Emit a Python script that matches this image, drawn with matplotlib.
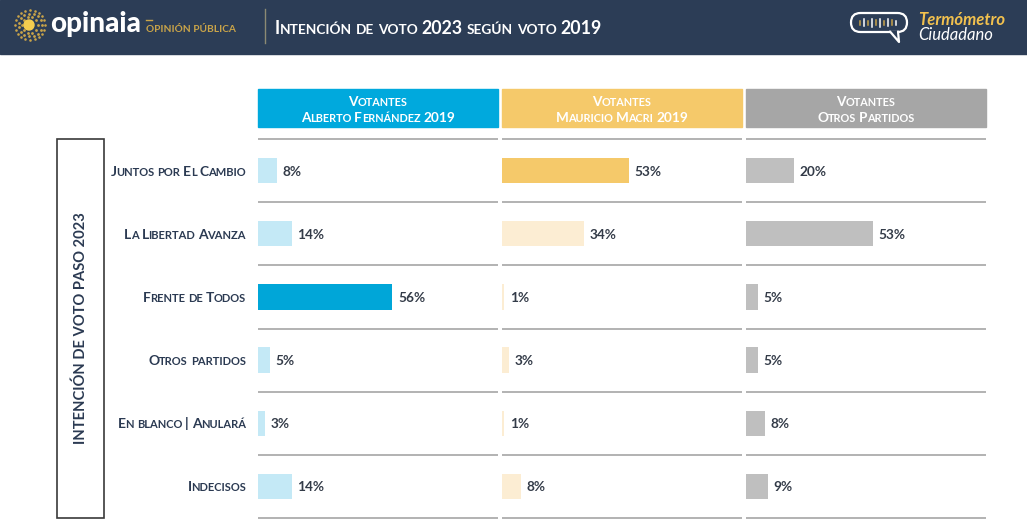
import matplotlib.pyplot as plt
import numpy as np
from matplotlib.patches import Rectangle, FancyBboxPatch, Circle, Polygon

plt.rcParams['font.family'] = ['Lato', 'DejaVu Sans']

# datos de la tabla
partidos = ["Juntos por El Cambio", "La Libertad Avanza", "Frente de Todos",
            "Otros partidos", "En blanco | Anulará", "Indecisos"]
grupos = [("Votantes", "Alberto Fernández 2019"),
          ("Votantes", "Mauricio Macri 2019"),
          ("Votantes", "Otros Partidos")]
votantes_fernandez = [8, 14, 56, 5, 3, 14]
votantes_macri = [53, 34, 1, 3, 1, 8]
votantes_otros = [20, 53, 5, 5, 8, 9]
series = [votantes_fernandez, votantes_macri, votantes_otros]

# cabecera, barra destacada, barra suave, fila destacada
estilos = [("#00a9dd", "#00a6d8", "#c4e9f6", 2),
           ("#f5c96a", "#f5c96a", "#fcedd3", 0),
           ("#a6a6a6", "#bfbfbf", "#bfbfbf", None)]

NAVY = "#2c3d56"
TEXTO = "#2b3a52"
ORO = "#c9a449"

fig = plt.figure(figsize=(10.27, 5.22), dpi=100)
rend = fig.canvas.get_renderer()
bg = fig.add_axes([0, 0, 1, 1])
bg.set_xlim(0, 1027)
bg.set_ylim(522, 0)
bg.axis('off')


def versalitas(ax, x, y, texto, size, color, ha='left', ratio=0.8, weight='bold'):
    # versalitas: las minusculas van en mayuscula mas chica, una tras otra
    em = size * 100 / 72
    textos = []
    pos = x
    for palabra in texto.split(' '):
        trozos = []
        for c in palabra:
            chico = c.islower()
            if trozos and trozos[-1][1] == chico:
                trozos[-1][0] += c.upper()
            else:
                trozos.append([c.upper(), chico])
        for t, chico in trozos:
            tt = ax.text(pos, y, t, fontsize=size * ratio if chico else size, color=color,
                         fontweight=weight, ha='left', va='baseline')
            pos = tt.get_window_extent(rend).x1 - 0.03 * em
            textos.append(tt)
        pos += 0.25 * em
    total = pos - x - 0.22 * em
    corr = {'left': 0, 'center': -total / 2, 'right': -total}[ha]
    for tt in textos:
        tt.set_x(tt.get_position()[0] + corr)


# banda superior
bg.add_patch(Rectangle((0, 0), 1027, 54, color=NAVY))
for r, n, s in [(8, 10, 4), (11.5, 15, 4), (15, 20, 3.5)]:
    ang = np.linspace(0, 2 * np.pi, n, endpoint=False)
    bg.scatter(30 + r * np.cos(ang), 25 + r * np.sin(ang), s=s, color=ORO, lw=0)
bg.add_patch(Circle((29, 25), 5, color="#f3cc4f"))
bg.text(50, 32, "opinaia", fontsize=20, fontweight='black', color='white', va='baseline')
bg.plot([146, 152], [20, 20], color=ORO, lw=1)
bg.text(146, 32, "OPINIÓN PÚBLICA", fontsize=7.3, fontweight='bold', color=ORO, va='baseline')
bg.plot([265, 265], [9, 43], color="#8c8a74", lw=1)
versalitas(bg, 275, 34, "Intención de voto 2023 según voto 2019", 12.8, 'white', ratio=0.77)

# icono termometro
bg.add_patch(FancyBboxPatch((851, 13), 56, 19, boxstyle="round,pad=0,rounding_size=9.5",
                            fc='none', ec='white', lw=1.6))
bg.add_patch(Polygon([(890, 31), (899, 42), (898, 31)], closed=True, fc=NAVY, ec='none'))
bg.plot([890, 899, 898], [31.5, 42, 31.5], color='white', lw=1.6, solid_capstyle='round')
for k, h in enumerate([4, 7, 4, 8, 5, 8, 4, 7, 5, 4]):
    bg.plot([860 + 4 * k] * 2, [22.5 - h / 2, 22.5 + h / 2],
            color=ORO if k % 2 == 0 else 'white', lw=1.1)
bg.text(918, 25, "Termómetro", fontsize=12, fontweight='bold', style='italic', color="#f2c14e")
bg.text(918, 40, "Ciudadano", fontsize=12, style='italic', color='white')

# caja lateral
top, bottom = 139, 518
bg.add_patch(Rectangle((57, top), 47, bottom - top, fc='none', ec='#3a3a3a', lw=1.2))
bg.text(81, (top + bottom) / 2, "INTENCIÓN DE VOTO PASO 2023", rotation=90, fontsize=10.6,
        fontweight='bold', color=TEXTO, ha='center', va='center')

alto_fila = (bottom - top) / len(partidos)
for i, p in enumerate(partidos):
    versalitas(bg, 246, top + alto_fila * (i + 0.5) + 5, p, 10, TEXTO, ha='right')

# paneles
for j, (valores, (cab, fuerte, suave, dest), grupo) in enumerate(zip(series, estilos, grupos)):
    x0 = 258 + 244 * j
    bg.add_patch(Rectangle((x0, 89), 240, 38, color=cab))
    versalitas(bg, x0 + 120, 105.5, grupo[0], 9.8, 'white', ha='center')
    versalitas(bg, x0 + 120, 122, grupo[1], 9.8, 'white', ha='center')

    ax = fig.add_axes([x0 / 1027, (522 - bottom) / 522, 240 / 1027, (bottom - top) / 522])
    ax.set_xlim(0, 100)
    ax.set_ylim(len(partidos) - 0.5, -0.5)
    ax.axis('off')
    colores = [fuerte if k == dest else suave for k in range(len(valores))]
    ax.barh(np.arange(len(valores)), valores, height=0.4, color=colores)
    ax.hlines(np.arange(len(partidos) + 1) - 0.5, 0, 100, color='#a6a6a6', lw=1.2, clip_on=False)
    for k, v in enumerate(valores):
        ax.text(v + 2.3, k + 0.08, f"{v}%", ha='left', va='baseline', fontsize=9.8,
                fontweight='bold', color='#333b48')

fig.savefig("out.png", dpi=100)
